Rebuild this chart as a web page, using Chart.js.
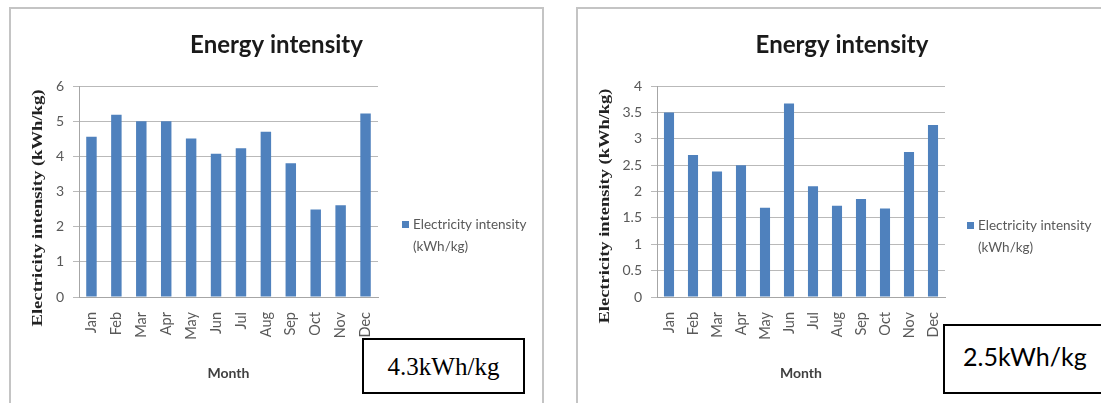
<!DOCTYPE html>
<html>
<head>
<meta charset="utf-8">
<title>Energy intensity</title>
<script src="https://cdn.jsdelivr.net/npm/chart.js@4.4.0/dist/chart.umd.min.js"></script>
<style>
  html, body { margin: 0; padding: 0; background: #ffffff; }
  body { position: relative; width: 1101px; height: 403px; overflow: hidden; }
  .frame { position: absolute; top: 7px; height: 430px; border: 2px solid #c4c4c4; box-sizing: border-box; }
  .chart { position: absolute; top: 8px; }
  .note { position: absolute; background: #ffffff; border: 2px solid #000000; box-sizing: border-box; color: #000000; white-space: nowrap; }
  #noteA { left: 362px; top: 338px; width: 163px; height: 56px; font: 25px "Liberation Serif", "Times New Roman", serif; text-align: center; line-height: 54px; }
  #noteB { left: 943px; top: 324px; width: 200px; height: 70px; font: 25px Lato, "Open Sans", sans-serif; padding-left: 18px; line-height: 60px; }
</style>
</head>
<body>
<div class="frame" style="left:9px;width:535px;"></div>
<div class="frame" style="left:576px;width:540px;"></div>
<div class="chart" style="left:10px;width:533px;height:387px;"><canvas id="chartA"></canvas></div>
<div class="chart" style="left:577px;width:530px;height:387px;"><canvas id="chartB"></canvas></div>
<div class="note" id="noteA"></div>
<div class="note" id="noteB"></div>

<script>
// Months on the category axis
const months = ['Jan', 'Feb', 'Mar', 'Apr', 'May', 'Jun', 'Jul', 'Aug', 'Sep', 'Oct', 'Nov', 'Dec'];

// Monthly electricity intensity (kWh/kg), first site
const intensityA = [4.56, 5.18, 5.00, 5.00, 4.51, 4.07, 4.23, 4.70, 3.80, 2.49, 2.61, 5.22];
// Monthly electricity intensity (kWh/kg), second site
const intensityB = [3.50, 2.69, 2.38, 2.50, 1.69, 3.67, 2.10, 1.73, 1.86, 1.68, 2.75, 3.26];

// Value-axis ranges
const yMaxA = 6, yStepA = 1;
const yMaxB = 4, yStepB = 0.5;

// Text
const chartTitle = 'Energy intensity';
const seriesName = ['Electricity intensity', '(kWh/kg)'];
const yTitle = 'Electricity intensity (kWh/kg)';
const xTitle = 'Month';
const unit = 'kWh/kg';

const BAR = '#4f81bd';
const GRID = '#b9b9b9';
const AXIS = '#a6a6a6';
const LABEL = '#595959';

// Draws the chart title, the axis titles and a two-line legend
const decor = {
  id: 'decor',
  afterDraw(chart, args, o) {
    const ctx = chart.ctx;
    const area = chart.chartArea;
    ctx.save();

    // title
    ctx.fillStyle = '#1a1a1a';
    ctx.font = 'bold 24px Lato, "Open Sans", sans-serif';
    ctx.textAlign = 'center';
    ctx.textBaseline = 'alphabetic';
    ctx.fillText(chartTitle, chart.width / 2, 45);

    // value-axis title, rotated and stretched along its length
    ctx.save();
    ctx.font = 'bold 14px "Liberation Serif", "Times New Roman", serif';
    ctx.fillStyle = '#222222';
    ctx.translate(o.yTitleX, o.yTitleY);
    ctx.rotate(-Math.PI / 2);
    const w = ctx.measureText(yTitle).width;
    ctx.scale(o.yTitleLen / w, 1);
    ctx.textAlign = 'center';
    ctx.textBaseline = 'middle';
    ctx.fillText(yTitle, 0, 0);
    ctx.restore();

    // category-axis title
    ctx.font = 'bold 14px Lato, "Open Sans", sans-serif';
    ctx.fillStyle = '#404040';
    ctx.textAlign = 'center';
    ctx.textBaseline = 'middle';
    ctx.fillText(xTitle, (area.left + area.right) / 2, 365);

    // legend
    const ds = chart.data.datasets[0];
    ctx.fillStyle = ds.backgroundColor;
    ctx.fillRect(o.legendX, o.legendY - 4, 7, 7);
    ctx.font = '13.5px Lato, "Open Sans", sans-serif';
    ctx.fillStyle = LABEL;
    ctx.textAlign = 'left';
    ctx.textBaseline = 'middle';
    ds.legendLines.forEach((line, i) => {
      ctx.fillText(line, o.legendX + 11, o.legendY + i * 22);
    });
    ctx.restore();
  }
};

function makeChart(id, values, yMax, yStep, plotLeft, plotRight, width, decorOpts) {
  const canvasHeight = 387;
  const plotTop = 78, plotBottom = 289, xAxisHeight = 60;
  return new Chart(document.getElementById(id), {
    type: 'bar',
    data: {
      labels: months,
      datasets: [{
        label: seriesName.join(' '),
        legendLines: seriesName,
        data: values,
        backgroundColor: BAR,
        borderWidth: 0,
        barPercentage: 0.42,
        categoryPercentage: 1.0
      }]
    },
    options: {
      responsive: true,
      maintainAspectRatio: false,
      animation: false,
      events: [],
      layout: {
        padding: {
          top: plotTop,
          left: 0,
          right: width - plotRight,
          bottom: canvasHeight - plotBottom - xAxisHeight
        }
      },
      plugins: {
        legend: { display: false },
        title: { display: false },
        tooltip: { enabled: false },
        decor: decorOpts
      },
      scales: {
        x: {
          grid: { display: false, drawTicks: false },
          border: { display: true, color: AXIS, width: 1 },
          ticks: {
            autoSkip: false,
            minRotation: 90,
            maxRotation: 90,
            padding: 15,
            color: LABEL,
            font: { family: 'Lato, "Open Sans", sans-serif', size: 14.5 }
          },
          afterFit(scale) { scale.height = xAxisHeight; }
        },
        y: {
          min: 0,
          max: yMax,
          grid: { color: GRID, lineWidth: 1, tickLength: 6, drawTicks: true },
          border: { display: true, color: AXIS, width: 1 },
          ticks: {
            stepSize: yStep,
            padding: 9,
            color: LABEL,
            font: { family: 'Lato, "Open Sans", sans-serif', size: 14 },
            callback: (v) => String(Number(v))
          },
          afterFit(scale) { scale.width = plotLeft; }
        }
      }
    },
    plugins: [decor]
  });
}

function mean(arr) { return arr.reduce((s, v) => s + v, 0) / arr.length; }

function build() {
  makeChart('chartA', intensityA, yMaxA, yStepA, 69, 368, 533,
    { yTitleX: 28, yTitleY: 200, yTitleLen: 237, legendX: 392, legendY: 217 });
  makeChart('chartB', intensityB, yMaxB, yStepB, 80, 368, 530,
    { yTitleX: 28, yTitleY: 198, yTitleLen: 235, legendX: 390, legendY: 218 });
  document.getElementById('noteA').textContent = mean(intensityA).toFixed(1) + unit;
  document.getElementById('noteB').textContent = mean(intensityB).toFixed(1) + unit;
}

const fontLoads = [
  'bold 24px Lato', '14px Lato', 'bold 14px Lato', 'bold 14px "Liberation Serif"', '25px "Liberation Serif"'
].map(f => document.fonts.load(f).catch(() => null));
Promise.all(fontLoads).then(build, build);
</script>
</body>
</html>
